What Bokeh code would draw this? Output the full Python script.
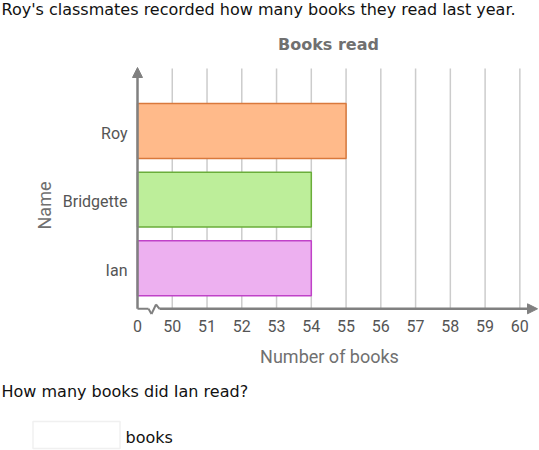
import math
from bokeh.plotting import figure
from bokeh.models import Range1d, Label, Arrow, NormalHead, BoxAnnotation
from bokeh.core.properties import value
from bokeh.embed import file_html
from bokeh.resources import INLINE

# ---- data ----
names = ["Roy", "Bridgette", "Ian"]
books = [55, 54, 54]
fill_colors = ["#ffba8a", "#bdee9a", "#edb0f0"]
line_colors = ["#d9793c", "#6aad3a", "#c042c8"]
x_ticks = [49, 50, 51, 52, 53, 54, 55, 56, 57, 58, 59, 60]   # 49 stands for the broken "0"
x_tick_labels = ["0", "50", "51", "52", "53", "54", "55", "56", "57", "58", "59", "60"]
grid_ticks = x_ticks[1:]
chart_title = "Books read"
x_title = "Number of books"
y_title = "Name"
intro = "Roy's classmates recorded how many books they read last year."
question = "How many books did Ian read?"
answer_unit = "books"

# ---- layout (pixel geometry of the page) ----
W, H = 539, 450
AXIS_X0 = 49            # value at which the (broken) axis starts
PX_X, ORG_X = 34.76, 137.0   # px per unit, pixel of AXIS_X0
PX_Y, ORG_Y = 68.6, 267.7    # px per unit, pixel of y = 1
AX = "#808080"

def fx(px):
    return AXIS_X0 + (px - ORG_X) / PX_X

def fy(py):
    return 1 + (ORG_Y - py) / PX_Y

ypos = [len(names) - i for i in range(len(names))]
Y_AXIS = fy(308.3)
Y_TOP = fy(67)

p = figure(width=W, height=H, x_range=Range1d(fx(0), fx(W)), y_range=Range1d(fy(H), fy(0)),
           output_backend="svg", toolbar_location=None,
           x_axis_type=None, y_axis_type=None, min_border=0)
p.outline_line_color = None
p.grid.visible = False
p.background_fill_color = "white"
p.border_fill_color = "white"

# grid lines
p.segment(x0=grid_ticks, y0=Y_AXIS, x1=grid_ticks, y1=fy(68),
          line_color="#cccccc", line_width=1.5)

# bars
p.hbar(y=ypos, right=books, left=AXIS_X0, height=0.8,
       fill_color=fill_colors, line_color=line_colors, line_width=1.5)

# axis lines with arrows and break
p.add_layout(Arrow(x_start=AXIS_X0, y_start=Y_AXIS, x_end=AXIS_X0, y_end=Y_TOP,
                   end=NormalHead(size=10, fill_color=AX, line_color=AX),
                   line_color=AX, line_width=2.5))
zig = [(137, 308.3), (148, 308.3), (151, 313.5), (155.5, 304), (159, 308.3)]
for (a, b), (c, d) in zip(zig[:-1], zig[1:]):
    p.add_layout(Arrow(x_start=fx(a), y_start=fy(b), x_end=fx(c), y_end=fy(d),
                       end=None, line_color=AX, line_width=2))
p.add_layout(Arrow(x_start=fx(159), y_start=Y_AXIS, x_end=fx(537), y_end=Y_AXIS,
                   end=NormalHead(size=10, fill_color=AX, line_color=AX),
                   line_color=AX, line_width=2.5))

# tick labels
p.text(x=x_ticks, y=Y_AXIS, text=x_tick_labels, y_offset=17.5,
       text_font=value("Roboto"), text_font_size=value("16px"), text_color="#555555",
       text_align="center", text_baseline="alphabetic")
p.text(x=fx(127), y=ypos, text=names, y_offset=2,
       text_font=value("Roboto"), text_font_size=value("16px"), text_color="#555555",
       text_align="right", text_baseline="alphabetic")

# texts
p.add_layout(Label(x=fx(1), y=fy(9), text=intro, text_font="DejaVu Sans",
                   text_font_size="16px", text_color="#111111",
                   text_align="left", text_baseline="alphabetic"))
p.add_layout(Label(x=fx(328), y=fy(44), text=chart_title, text_font="DejaVu Sans",
                   text_font_size="16px", text_font_style="bold", text_color="#707070",
                   text_align="center", text_baseline="alphabetic"))
p.add_layout(Label(x=fx(44), y=fy(205), text=y_title, text_font="Roboto",
                   text_font_size="18px", text_color="#707070", angle=math.pi / 2,
                   text_align="center", text_baseline="middle"))
p.add_layout(Label(x=fx(329), y=fy(356), text=x_title, text_font="Roboto",
                   text_font_size="18px", text_color="#707070",
                   text_align="center", text_baseline="alphabetic"))
p.add_layout(Label(x=fx(1), y=fy(391), text=question, text_font="DejaVu Sans",
                   text_font_size="16px", text_color="#111111",
                   text_align="left", text_baseline="alphabetic"))
p.add_layout(BoxAnnotation(left=fx(32.5), right=fx(119.5), top=fy(421), bottom=fy(448),
                           fill_color="white", fill_alpha=1, line_color="#cccccc",
                           line_width=1.5))
p.add_layout(Label(x=fx(125), y=fy(437), text=answer_unit, text_font="DejaVu Sans",
                   text_font_size="16px", text_color="#111111",
                   text_align="left", text_baseline="alphabetic"))

open("out.html", "w").write(file_html(p, INLINE))
